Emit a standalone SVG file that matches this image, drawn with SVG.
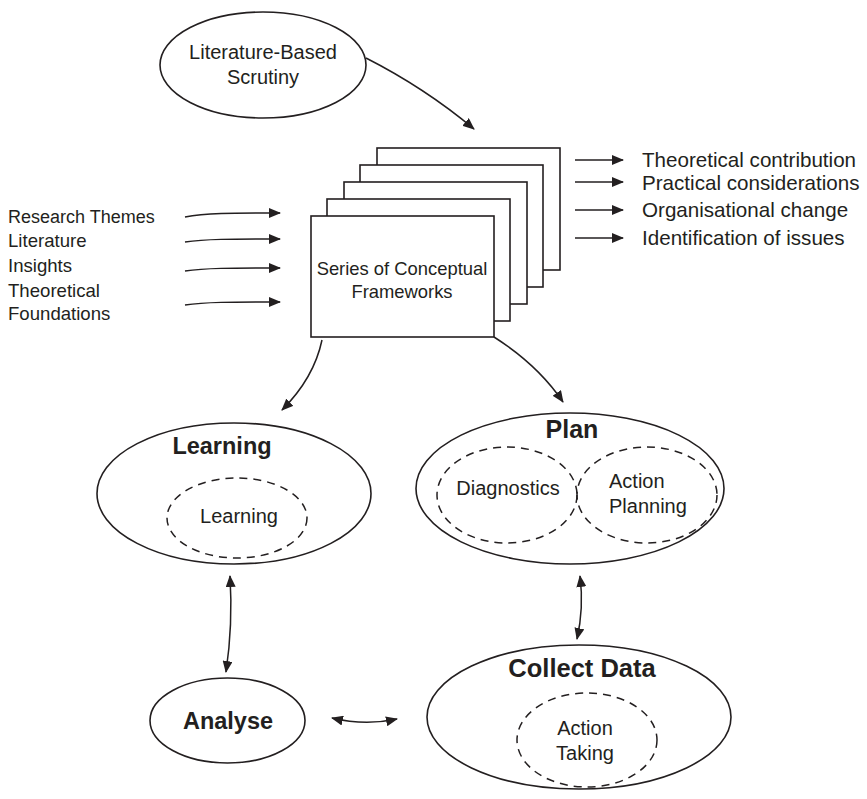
<svg xmlns="http://www.w3.org/2000/svg" width="867" height="799" viewBox="0 0 867 799">
<style>
.sh{fill:#fff;stroke:#231f20;stroke-width:1.6}
.dash{fill:none;stroke:#231f20;stroke-width:1.5;stroke-dasharray:8 6}
.t{font-family:"Liberation Sans",Arial,sans-serif;fill:#231f20}
.b{font-family:"Liberation Sans",Arial,sans-serif;fill:#231f20;font-weight:bold}
.c{fill:none;stroke:#231f20;stroke-width:1.5}
</style>
<defs>
<marker id="ah" markerUnits="userSpaceOnUse" markerWidth="12" markerHeight="10" refX="11" refY="5" orient="auto-start-reverse">
<path d="M0,0 L12,5 L0,10 z" fill="#231f20"/>
</marker>
</defs>
<rect width="867" height="799" fill="#fff"/>
<g id="scrutiny">
<ellipse class="sh" cx="263" cy="65" rx="103" ry="53"/>
<text class="t" x="263" y="59" font-size="20" text-anchor="middle">Literature-Based</text>
<text class="t" x="263" y="84" font-size="20" text-anchor="middle">Scrutiny</text>
</g>
<g id="frameworks">
<rect class="sh" x="377" y="148" width="183" height="122"/>
<rect class="sh" x="360" y="165" width="183" height="122"/>
<rect class="sh" x="344" y="182" width="183" height="122"/>
<rect class="sh" x="327" y="199" width="183" height="122"/>
<rect class="sh" x="311" y="216" width="183" height="121"/>
<text class="t" x="402" y="275" font-size="18.4" text-anchor="middle">Series of Conceptual</text>
<text class="t" x="402" y="298" font-size="18.4" text-anchor="middle">Frameworks</text>
</g>
<g id="inputs">
<text class="t" x="8" y="223" font-size="18">Research Themes</text>
<text class="t" x="8" y="247" font-size="18.6">Literature</text>
<text class="t" x="8" y="272" font-size="18.6">Insights</text>
<text class="t" x="8" y="297" font-size="18.6">Theoretical</text>
<text class="t" x="8" y="320" font-size="18.6">Foundations</text>
</g>
<g id="outputs">
<text class="t" x="642" y="167" font-size="20.6">Theoretical contribution</text>
<text class="t" x="642" y="190" font-size="20.6">Practical considerations</text>
<text class="t" x="642" y="217" font-size="20.6">Organisational change</text>
<text class="t" x="642" y="245" font-size="20.6">Identification of issues</text>
</g>
<g id="learning">
<ellipse class="sh" cx="234" cy="493.5" rx="137" ry="70.5"/>
<ellipse class="dash" cx="237" cy="518" rx="70" ry="40"/>
<text class="b" x="222" y="454" font-size="23.5" text-anchor="middle">Learning</text>
<text class="t" x="239" y="523" font-size="20" text-anchor="middle">Learning</text>
</g>
<g id="plan">
<ellipse class="sh" cx="570" cy="488.5" rx="154" ry="75.5"/>
<ellipse class="dash" cx="507" cy="495" rx="70" ry="48"/>
<ellipse class="dash" cx="647" cy="495" rx="70" ry="48"/>
<text class="b" x="572" y="438" font-size="25" text-anchor="middle">Plan</text>
<text class="t" x="508" y="495" font-size="20" text-anchor="middle">Diagnostics</text>
<text class="t" x="609" y="488" font-size="20">Action</text>
<text class="t" x="609" y="513" font-size="20">Planning</text>
</g>
<g id="collect">
<ellipse class="sh" cx="579" cy="717" rx="152" ry="72"/>
<ellipse class="dash" cx="587" cy="740" rx="70" ry="47"/>
<text class="b" x="582" y="677" font-size="25.5" text-anchor="middle">Collect Data</text>
<text class="t" x="585" y="735" font-size="20" text-anchor="middle">Action</text>
<text class="t" x="585" y="760" font-size="20" text-anchor="middle">Taking</text>
</g>
<g id="analyse">
<ellipse class="sh" cx="227.5" cy="720.5" rx="77.5" ry="42.5"/>
<text class="b" x="228" y="729" font-size="23.5" text-anchor="middle">Analyse</text>
</g>
<g id="connectors">
<path class="c" d="M366,58 Q425,88 474,129" marker-end="url(#ah)"/>
<path class="c" d="M185,217 C205,213 230,213 280,213" marker-end="url(#ah)"/>
<path class="c" d="M185,242 C205,239 230,239 280,239" marker-end="url(#ah)"/>
<path class="c" d="M185,271 C205,268 230,268 280,268" marker-end="url(#ah)"/>
<path class="c" d="M185,305 C205,302 230,302 280,302" marker-end="url(#ah)"/>
<path class="c" d="M575,160 L623,160" marker-end="url(#ah)"/>
<path class="c" d="M575,182 L623,182" marker-end="url(#ah)"/>
<path class="c" d="M575,210 L623,210" marker-end="url(#ah)"/>
<path class="c" d="M575,238 L623,238" marker-end="url(#ah)"/>
<path class="c" d="M322,340 Q314,378 282,410" marker-end="url(#ah)"/>
<path class="c" d="M494,337 Q538,365 563,402" marker-end="url(#ah)"/>
<path class="c" d="M580,576 Q584,608 577,639" marker-start="url(#ah)" marker-end="url(#ah)"/>
<path class="c" d="M230,576 Q233,625 226,672" marker-start="url(#ah)" marker-end="url(#ah)"/>
<path class="c" d="M332,718 Q365,726 397,719" marker-start="url(#ah)" marker-end="url(#ah)"/>
</g>
</svg>
